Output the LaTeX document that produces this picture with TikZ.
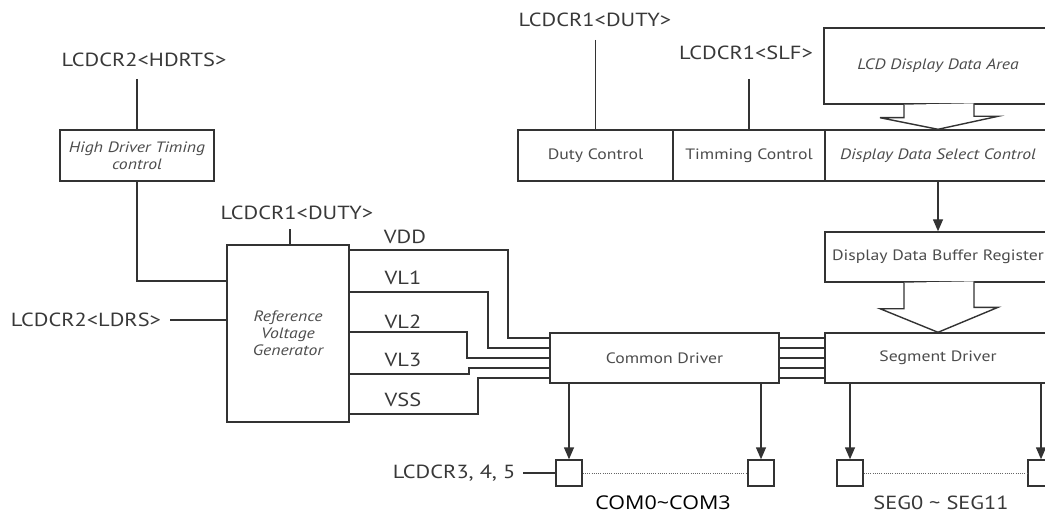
\documentclass[tikz,border=0pt]{standalone}
\usepackage{fontspec}
\setmainfont[FakeStretch=1.18]{PT Sans}
\newfontfamily\comfont[FakeStretch=1.13]{Open Sans}
\usetikzlibrary{arrows.meta}
\begin{document}
\begin{tikzpicture}[x=1pt,y=-1pt,
  ln/.style={line width=1.4pt, draw=black!80},
  blk/.style={ln, rectangle, inner sep=0pt, font=\fontsize{15}{17}\selectfont, text=black!70, align=center},
  blkit/.style={blk, font=\fontsize{15}{17}\selectfont\itshape},
  lab/.style={inner sep=0pt, font=\fontsize{19}{22}\selectfont, text=black!78},
  pad/.style={ln, rectangle, minimum width=26pt, minimum height=26pt, inner sep=0pt},
  arr/.style={ln, -{Triangle[width=10pt,length=12pt]}},
  dots/.style={line width=0.7pt, draw=black!60, dash pattern=on 1pt off 1.2pt},
  wide/.style={ln, fill=white, line join=miter}
]
\useasboundingbox (0,0) rectangle (1045,516);
\clip (0,0) rectangle (1045,516);

% blocks
\node[blkit, minimum width=154pt, minimum height=51pt] (hdt) at (137,155.5) {High Driver Timing\\control};
\node[blkit, minimum width=122pt, minimum height=177pt] (rvg) at (288,333.5) {Reference\\Voltage\\Generator};
\node[blk, minimum width=155pt, minimum height=51pt] (duty) at (595.5,155.5) {Duty Control};
\node[blk, minimum width=152pt, minimum height=51pt] (tim) at (749,155.5) {Timming Control};
\node[blkit, minimum width=226pt, minimum height=51pt] (ddsc) at (938,155.5) {Display Data Select Control};
\node[blkit, minimum width=228pt, minimum height=76pt] (lcd) at (938,66) {LCD Display Data Area};
\node[blk, minimum width=226pt, minimum height=50pt] (ddbr) at (938,257) {Display Data Buffer Register};
\node[blk, minimum width=229pt, minimum height=50pt] (cd) at (664.5,358) {Common Driver};
\node[blk, minimum width=226pt, minimum height=50pt] (sd) at (938,358) {Segment Driver};

% pads
\node[pad] (p1) at (569,473) {};
\node[pad] (p2) at (761,473) {};
\node[pad] (p3) at (850,473) {};
\node[pad] (p4) at (1041,473) {};

% labels
\node[lab] (hdrts) at (144,60) {LCDCR2<HDRTS>};
\node[lab] (dutyl) at (297,213) {LCDCR1<DUTY>};
\node[lab] (dutyt) at (595,20) {LCDCR1<DUTY>};
\node[lab] (slf) at (746,53) {LCDCR1<SLF>};
\node[lab] (ldrs) at (86,320) {LCDCR2<LDRS>};
\node[lab] (l345) at (454,473) {LCDCR3, 4, 5};
\node[lab] (vdd) at (405,237) {VDD};
\node[lab] (vl1) at (403,278) {VL1};
\node[lab] (vl2) at (403,322) {VL2};
\node[lab] (vl3) at (403,360) {VL3};
\node[lab] (vss) at (403,400) {VSS};
\node[inner sep=0pt, font=\comfont\fontsize{19}{22}\selectfont] (com) at (663,503) {COM0\textasciitilde COM3};
\node[lab] (seg) at (941,503) {SEG0 \textasciitilde{} SEG11};

% helper coordinates
\coordinate (c1) at (137,79);
\coordinate (c2) at (137,281);
\coordinate (c3) at (290,229);
\coordinate (c4) at (595.5,40);
\coordinate (c5) at (749,79);
\coordinate (c6) at (170,320);
\coordinate (c7) at (523,473);

% control lines
\draw[ln] (c1) -- (hdt.north);
\draw[ln] (hdt.south) -- (c2) -- (c2 -| rvg.west);
\draw[ln] (c3) -- (c3 |- rvg.north);
\draw[ln] (c4) -- (duty.north);
\draw[ln] (c5) -- (tim.north);
\draw[ln] (c6) -- (c6 -| rvg.west);
\draw[ln] (c7) -- (p1.west);

% voltage lines
\coordinate (v0) at (349,250); \coordinate (e0) at (550,338);
\coordinate (v1) at (349,292); \coordinate (e1) at (550,348);
\coordinate (v2) at (349,332); \coordinate (e2) at (550,358);
\coordinate (v3) at (349,374); \coordinate (e3) at (550,368);
\coordinate (v4) at (349,414); \coordinate (e4) at (550,378);
\draw[ln] (v0 -| rvg.east) -- (508,250) |- (e0 -| cd.west);
\draw[ln] (v1 -| rvg.east) -- (488,292) |- (e1 -| cd.west);
\draw[ln] (v2 -| rvg.east) -- (467,332) |- (e2 -| cd.west);
\draw[ln] (v3 -| rvg.east) -- (469,374) |- (e3 -| cd.west);
\draw[ln] (v4 -| rvg.east) -- (478,414) |- (e4 -| cd.west);

% bus between drivers
\foreach \i in {0,...,4} {
  \draw[ln] (e\i -| cd.east) -- (e\i -| sd.west);
}

% wide arrows
\draw[wide] ([xshift=-34pt]lcd.south) -- ++(0,13) -- ++(-24,0) -- (ddsc.north) -- ++(60,-13) -- ++(-24,0) -- ++(0,-13);
\draw[wide] ([xshift=-34pt]ddbr.south) -- ++(0,26) -- ++(-24,0) -- (sd.north) -- ++(60,-25) -- ++(-24,0) -- ++(0,-26);

% arrows
\draw[arr] (ddsc.south) -- (ddbr.north);
\draw[arr] (p1 |- cd.south) -- (p1.north);
\draw[arr] (p2 |- cd.south) -- (p2.north);
\draw[arr] (p3 |- sd.south) -- (p3.north);
\draw[arr] (p4 |- sd.south) -- (p4.north);

% dotted links
\draw[dots] (p1.east) -- (p2.west);
\draw[dots] (p3.east) -- (p4.west);
\end{tikzpicture}
\end{document}
